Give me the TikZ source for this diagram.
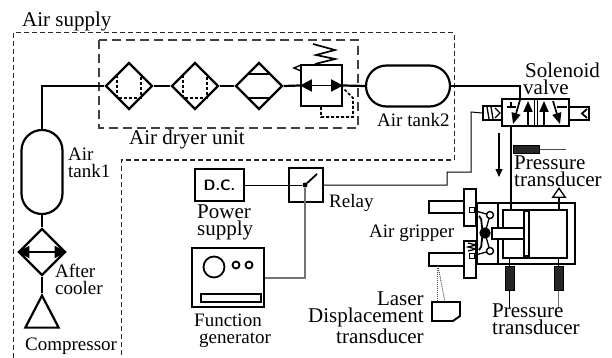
\documentclass[tikz,border=0pt]{standalone}
\usepackage{fontspec}
\setmainfont{Liberation Serif}
\usetikzlibrary{shapes.geometric,shapes.misc,arrows.meta}

\tikzset{
  pipe/.style={line width=2.2pt},
  wire/.style={line width=1pt},
  greywire/.style={line width=1.2pt, black!55},
  part/.style={draw, line width=2.2pt, inner sep=0pt, fill=white},
  cooler/.style={part, diamond, minimum width=47pt, minimum height=47pt},
  tank/.style={part, rounded rectangle, minimum width=84pt, minimum height=41pt},
  sensor/.style={draw, fill=black!85, line width=1pt, inner sep=0pt},
  label/.style={anchor=base west, align=left, inner sep=0pt, font=\fontsize{21}{17}\selectfont},
  smalllabel/.style={label, font=\fontsize{19}{17}\selectfont},
  twoway/.style={line width=1.8pt, {Triangle[length=12pt,width=12pt]}-{Triangle[length=12pt,width=12pt]}},
  flow/.style={line width=1.7pt, -{Triangle[length=11pt,width=9pt]}}
}

\begin{document}
\begin{tikzpicture}[x=1pt,y=-1pt]
\useasboundingbox (0,0) rectangle (612,358);
% dashed frames
\draw[wire, black!85, dash pattern=on 5pt off 3pt] (13,358) -- (13,33) -- (454,33) -- (454,160) -- (121,160) -- (121,358);
\draw[line width=1.3pt, black!75, dash pattern=on 9pt off 5pt] (99,40) rectangle (358,128);

% air supply
\node[tank, rotate=90] (tank1) at (42,172) {};
\node[cooler] (after) at (42,252) {};
\node[part, isosceles triangle, isosceles triangle apex angle=55, shape border rotate=90, minimum height=32pt] (comp) at (42,317.5) {};
\draw[pipe] (tank1.west) -- (after.north);
\draw[pipe] (after.south) -- (comp.apex);
\draw[twoway] (after.west) -- (after.east);

% air dryer unit
\node[cooler] (dry1) at (129,86) {};
\node[cooler] (dry2) at (195,86) {};
\node[cooler] (dry3) at (259,86) {};
\node[part, minimum width=41pt, minimum height=41pt] (reg) at (321.5,85.5) {};
\node[tank] (tank2) at (408,86) {};
\draw[pipe] (tank1.east) |- (dry1.west);
\draw[pipe] (dry1.east) -- (dry2.west);
\draw[pipe] (dry2.east) -- (dry3.west);
\draw[pipe] (dry3.east) -- (reg.west);
\draw[pipe] (reg.east) -- (tank2.west);
\foreach \cx in {129,195}
  \draw[line width=1.5pt, densely dashed] (\cx-12,75) -- (\cx-12,98) -- (\cx+12,98) -- (\cx+12,75);
\draw[line width=1.8pt] (248,74) -- (270,74) (248,98) -- (270,98);
\draw[twoway] (reg.west) -- (reg.east);
\draw[line width=1.7pt] (313,44) -- (335,50) -- (316,55) -- (335,59) -- (315,64);
\draw[line width=1.4pt] (301,65) -- (294,68) -- (301,71);
\draw[line width=1.6pt, densely dashed] (321,107) -- (321,117) -- (353,117) -- (353,98) -- (343,88);

% solenoid valve
\node[part, minimum width=67pt, minimum height=27pt] (valve) at (535.5,112.5) {};
\node[part, line width=1.8pt, minimum width=19pt, minimum height=14pt] (solL) at (492.5,113) {};
\node[part, line width=1.8pt, minimum width=20pt, minimum height=13pt] (solR) at (579,113.5) {};
\coordinate (valvein) at (520,99);
\coordinate (valveout) at (511,126);
\draw[pipe] (tank2.east) -| (valvein);
\draw[line width=1.4pt] (534.5,99) -- (534.5,126) (537.5,99) -- (537.5,126);
\draw[flow] (520,100) -- (513,124);
\draw[flow] (528,125) -- (528,101);
\draw[flow] (544,125) -- (544,101);
\draw[flow] (553,101) -- (560,124);
\draw[line width=1.4pt] (507,107) -- (516,107) (511,102) -- (511,107) (557,107) -- (567,107);
\draw[line width=1.3pt] (487,107) -- (489,119) (491,107) -- (493,119) (495,108) -- (500,113) -- (495,118);
\draw[line width=1.8pt] (587,109) -- (582,113.5) -- (587,118);

% cylinder and gripper
\node[part, minimum width=77pt, minimum height=61pt] (cyl) at (536.5,233.5) {};
\node[part, minimum width=64pt, minimum height=48pt] (bore) at (535,234) {};
\node[part, line width=1.6pt, minimum width=5pt, minimum height=45pt] (piston) at (526.5,233.5) {};
\node[part, minimum width=21pt, minimum height=61pt] (body) at (487.5,233.5) {};
\node[part, line width=1.6pt, minimum width=32pt, minimum height=11pt] (rod) at (508,233.5) {};
\node[part, minimum width=35pt, minimum height=12pt] (fingerU) at (446.5,207) {};
\node[part, minimum width=35pt, minimum height=13pt] (fingerL) at (446.5,259.5) {};
\node[part, minimum width=12pt, minimum height=37pt] (jawU) at (470,207.5) {};
\node[part, minimum width=12pt, minimum height=37pt] (jawL) at (470,259.5) {};
\draw[line width=1.8pt] (479,216) .. controls (484,219) and (479,228) .. (485,233) .. controls (479,238) and (484,247) .. (479,250);
\draw[line width=1.3pt] (472,210) -- (490,215) -- (485,233) -- (490,251) -- (472,256);
\draw[line width=1.3pt] (468,243) -- (476,245) -- (468,247) -- (476,249) -- (468,251);
\node[part, circle, line width=1.4pt, minimum size=7pt] (jointU) at (490,215) {};
\node[part, circle, line width=1.4pt, minimum size=7pt] (jointL) at (490,251) {};
\node[part, circle, fill=black, minimum size=9pt] (pivot) at (485,233) {};
\node[part, line width=1.4pt, minimum size=5pt] (pinU) at (472,210) {};
\node[part, line width=1.4pt, minimum size=5pt] (pinL) at (472,256) {};

% pressure transducers and laser sensor
\node[sensor, minimum width=26pt, minimum height=8pt] (pt1) at (526,150) {};
\node[sensor, minimum width=9pt, minimum height=24pt] (pt2) at (509.5,278) {};
\node[sensor, minimum width=9pt, minimum height=24pt] (pt3) at (558.5,278) {};
\node[part, line width=1.3pt, isosceles triangle, isosceles triangle apex angle=70, shape border rotate=90, minimum height=9pt] (vent) at (559,194) {};
\coordinate (pt1end) at (566,150);
\coordinate (pt2end) at (509.5,308);
\coordinate (pt3end) at (558.5,309);
\coordinate (arrowtop) at (499,133);
\coordinate (arrowend) at (499,177);
\draw[pipe] (valveout) -- (511,210);
\draw[wire, black!70] (pt1.east) -- (pt1end);
\draw[wire] (pt2.south) -- (pt2end);
\draw[greywire] (pt3.south) -- (pt3end);
\draw[line width=1.4pt] (vent.south) -- (559,210);
\draw[line width=1.6pt] (509.5,258) -- (pt2.north) (558.5,258) -- (pt3.north);
\draw[line width=1.1pt, -{Triangle[length=8pt,width=7pt]}] (arrowtop) -- (arrowend);
\draw[part, line width=1.9pt] (432,302) -- (460,302) -- (460,316) -- (453,321) -- (432,321) -- cycle;
\coordinate (laser) at (445,302);
\draw[wire, black!70, densely dotted] (437,266) -- (437,301);
\draw[wire, black!70, densely dotted] (438,266) -- (laser);

% electrics
\node[part, minimum width=49pt, minimum height=32pt, font=\sffamily\bfseries\fontsize{15}{15}\selectfont] (dc) at (219.5,185) {D.C.};
\node[part, minimum width=34pt, minimum height=34pt] (relay) at (306,185) {};
\node[part, minimum width=72pt, minimum height=59pt] (fungen) at (228,277.5) {};
\node[circle, fill=black, inner sep=0pt, minimum size=5pt] (contact) at (305,185) {};
\coordinate (swtip) at (317,174);
\coordinate (swin) at (471,112);
\draw[wire] (dc.east) -- (relay.west);
\draw[wire] (relay.west) -- (contact);
\draw[line width=1.8pt] (contact) -- (swtip);
\draw[wire] (relay.east) -- (447,185) -- (447,172) -- (471,172) -- (swin) -- (solL.west);
\draw[greywire] (fungen.east |- 0,278) -| (contact);
\draw[line width=1.8pt] (214,267) circle (10.5) (236,265) circle (3.5) (249,265) circle (3.5);
\draw[line width=1.8pt] (201,294) rectangle (261,302);

% labels
\node[label] (lsupply) at (22,27) {Air supply};
\node[label] (ldryer) at (129,145) {Air dryer unit};
\node[smalllabel] (ltank2) at (377,127) {Air tank2};
\node[smalllabel] (ltank1) at (68,177) {Air\\tank1};
\node[smalllabel] (lafter) at (55,294) {After\\cooler};
\node[smalllabel] (lcomp) at (25,350) {Compressor};
\node[label] (lvalve) at (523,95) {\hspace{2pt}Solenoid\\valve};
\node[label] (lpt1) at (514,186) {Pressure\\transducer};
\node[smalllabel] (lrelay) at (329,207) {Relay};
\node[label] (lpower) at (197,235) {Power\\supply};
\node[smalllabel] (lgrip) at (369,237) {Air gripper};
\node[smalllabel] (lfun) at (194,343) {Function\\\hspace{5pt}generator};
\node[label, align=right] (llaser) at (308,343) {Laser\\Displacement\\transducer};
\node[label] (lpt2) at (492,334) {Pressure\\transducer};
\end{tikzpicture}
\end{document}
